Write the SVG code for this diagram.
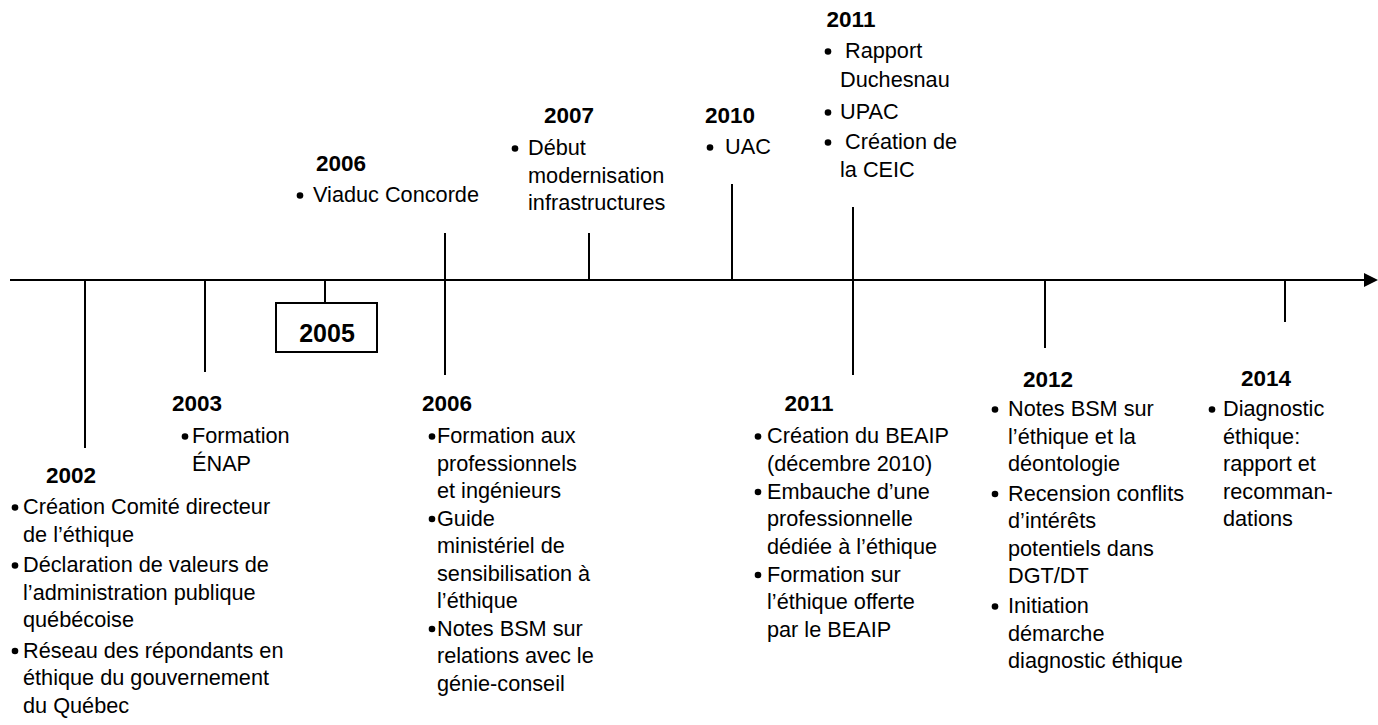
<svg xmlns="http://www.w3.org/2000/svg" width="1378" height="725" viewBox="0 0 1378 725">
<style>
.t{font-family:"Liberation Sans",Arial,sans-serif;font-size:21.7px;fill:#000}
.y{font-family:"Liberation Sans",Arial,sans-serif;font-size:22.5px;font-weight:bold;fill:#000;text-anchor:middle}
.ln{stroke:#000;stroke-width:2;fill:none}
.b{fill:#000}
</style>
<rect width="1378" height="725" fill="#fff"/>
<g id="connectors">
<line class="ln" x1="10" y1="280" x2="1366" y2="280"/>
<polygon points="1364,273 1378,280 1364,287" fill="#000"/>
<line class="ln" x1="85" y1="280" x2="85" y2="448"/>
<line class="ln" x1="205" y1="280" x2="205" y2="372"/>
<line class="ln" x1="325" y1="280" x2="325" y2="303"/>
<line class="ln" x1="445" y1="233" x2="445" y2="375"/>
<line class="ln" x1="589" y1="233" x2="589" y2="280"/>
<line class="ln" x1="732" y1="184" x2="732" y2="280"/>
<line class="ln" x1="853" y1="207" x2="853" y2="375"/>
<line class="ln" x1="1045" y1="280" x2="1045" y2="348"/>
<line class="ln" x1="1285" y1="280" x2="1285" y2="322"/>
</g>
<g id="n2002">
<text class="y" x="71" y="483">2002</text>
<circle class="b" cx="15" cy="507.5" r="3.3"/>
<circle class="b" cx="15" cy="565.5" r="3.3"/>
<circle class="b" cx="15" cy="651" r="3.3"/>
<text class="t"><tspan x="23" y="514">Création Comité directeur</tspan><tspan x="23" y="541.5">de l’éthique</tspan><tspan x="23" y="572">Déclaration de valeurs de</tspan><tspan x="23" y="599.5">l’administration publique</tspan><tspan x="23" y="627">québécoise</tspan><tspan x="23" y="657.5">Réseau des répondants en</tspan><tspan x="23" y="685">éthique du gouvernement</tspan><tspan x="23" y="712.5">du Québec</tspan></text>
</g>
<g id="n2003">
<text class="y" x="197" y="411">2003</text>
<circle class="b" cx="185" cy="436.5" r="3.3"/>
<text class="t"><tspan x="192" y="443">Formation</tspan><tspan x="192" y="470.5">ÉNAP</tspan></text>
</g>
<g id="n2005">
<rect x="276" y="303" width="101" height="49" fill="#fff" stroke="#000" stroke-width="2"/>
<text class="y" x="327" y="342" style="font-size:25px">2005</text>
</g>
<g id="n2006a">
<text class="y" x="341" y="171">2006</text>
<circle class="b" cx="300" cy="195.5" r="3.3"/>
<text class="t" x="313" y="202">Viaduc  Concorde</text>
</g>
<g id="n2006b">
<text class="y" x="447" y="411">2006</text>
<circle class="b" cx="432" cy="436.5" r="3.3"/>
<circle class="b" cx="432" cy="519" r="3.3"/>
<circle class="b" cx="432" cy="629" r="3.3"/>
<text class="t"><tspan x="437" y="443">Formation aux</tspan><tspan x="437" y="470.5">professionnels</tspan><tspan x="437" y="498">et ingénieurs</tspan><tspan x="437" y="525.5">Guide</tspan><tspan x="437" y="553">ministériel de</tspan><tspan x="437" y="580.5">sensibilisation à</tspan><tspan x="437" y="608">l’éthique</tspan><tspan x="437" y="635.5">Notes BSM sur</tspan><tspan x="437" y="663">relations avec le</tspan><tspan x="437" y="690.5">génie-conseil</tspan></text>
</g>
<g id="n2007">
<text class="y" x="569" y="123">2007</text>
<circle class="b" cx="515" cy="148.5" r="3.3"/>
<text class="t"><tspan x="528" y="155">Début</tspan><tspan x="528" y="182.5">modernisation</tspan><tspan x="528" y="210">infrastructures</tspan></text>
</g>
<g id="n2010">
<text class="y" x="730" y="123">2010</text>
<circle class="b" cx="710" cy="147.5" r="3.3"/>
<text class="t" x="725" y="154">UAC</text>
</g>
<g id="n2011a">
<text class="y" x="851" y="27">2011</text>
<circle class="b" cx="828" cy="51.5" r="3.3"/>
<circle class="b" cx="828" cy="112.5" r="3.3"/>
<circle class="b" cx="828" cy="142.5" r="3.3"/>
<text class="t"><tspan x="845" y="58">Rapport</tspan><tspan x="840" y="87">Duchesnau</tspan><tspan x="840" y="119">UPAC</tspan><tspan x="845" y="149">Création de</tspan><tspan x="840" y="177">la CEIC</tspan></text>
</g>
<g id="n2011b">
<text class="y" x="809" y="411">2011</text>
<circle class="b" cx="758" cy="436.5" r="3.3"/>
<circle class="b" cx="758" cy="492" r="3.3"/>
<circle class="b" cx="758" cy="575" r="3.3"/>
<text class="t"><tspan x="767" y="443">Création du BEAIP</tspan><tspan x="767" y="470.5">(décembre 2010)</tspan><tspan x="767" y="498.5">Embauche d’une</tspan><tspan x="767" y="526">professionnelle</tspan><tspan x="767" y="553.5">dédiée à l’éthique</tspan><tspan x="767" y="581.5">Formation sur</tspan><tspan x="767" y="609">l’éthique offerte</tspan><tspan x="767" y="636.5">par le BEAIP</tspan></text>
</g>
<g id="n2012">
<text class="y" x="1048" y="387">2012</text>
<circle class="b" cx="995" cy="409.5" r="3.3"/>
<circle class="b" cx="995" cy="494" r="3.3"/>
<circle class="b" cx="995" cy="606.5" r="3.3"/>
<text class="t"><tspan x="1008" y="416">Notes BSM sur</tspan><tspan x="1008" y="443.5">l’éthique et la</tspan><tspan x="1008" y="471">déontologie</tspan><tspan x="1008" y="500.5">Recension conflits</tspan><tspan x="1008" y="528">d’intérêts</tspan><tspan x="1008" y="555.5">potentiels dans</tspan><tspan x="1008" y="583">DGT/DT</tspan><tspan x="1008" y="613">Initiation</tspan><tspan x="1008" y="640.5">démarche</tspan><tspan x="1008" y="668">diagnostic éthique</tspan></text>
</g>
<g id="n2014">
<text class="y" x="1266" y="386">2014</text>
<circle class="b" cx="1212" cy="409.5" r="3.3"/>
<text class="t"><tspan x="1223" y="416">Diagnostic</tspan><tspan x="1223" y="443.5">éthique:</tspan><tspan x="1223" y="471">rapport et</tspan><tspan x="1223" y="498.5">recomman-</tspan><tspan x="1223" y="526">dations</tspan></text>
</g>
</svg>
